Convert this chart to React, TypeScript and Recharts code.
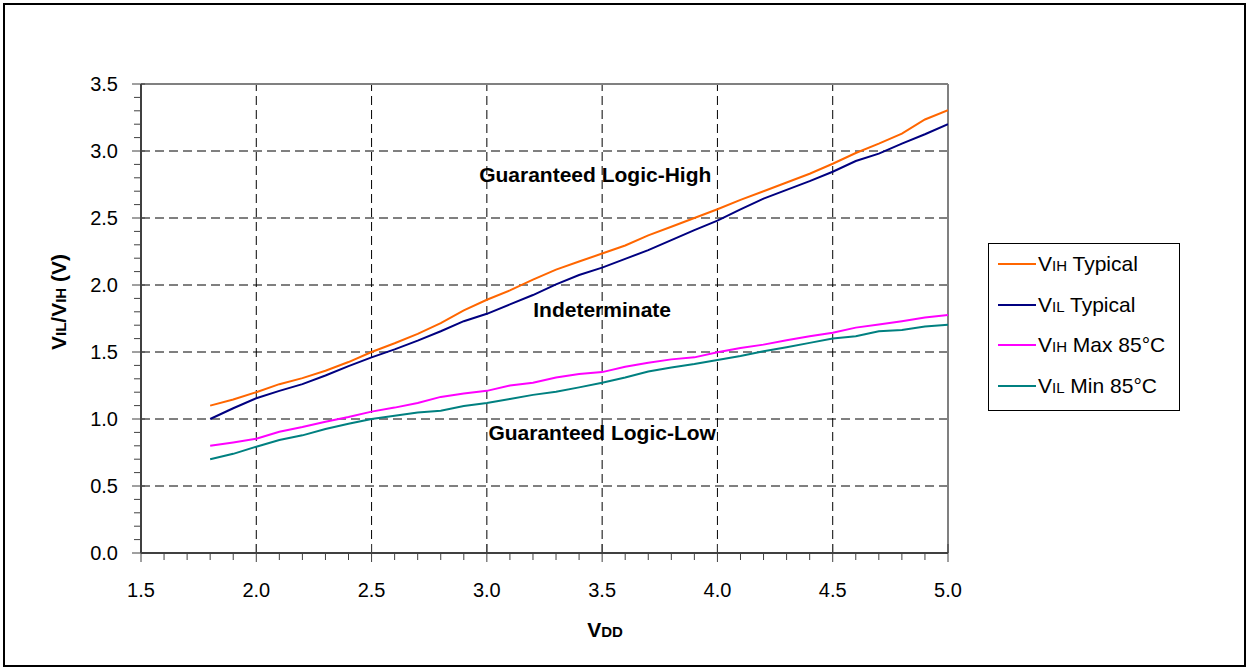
import { LineChart, Line, XAxis, YAxis, ReferenceLine, ReferenceDot, Legend } from "recharts";

// VDD sweep (V)
const VDD = [
  1.8, 1.9, 2.0, 2.1, 2.2, 2.3, 2.4, 2.5, 2.6, 2.7, 2.8, 2.9, 3.0, 3.1, 3.2, 3.3, 3.4,
  3.5, 3.6, 3.7, 3.8, 3.9, 4.0, 4.1, 4.2, 4.3, 4.4, 4.5, 4.6, 4.7, 4.8, 4.9, 5.0,
];

const VIH_TYP = [
  1.1, 1.145, 1.2, 1.26, 1.305, 1.36, 1.425, 1.5, 1.565, 1.635, 1.715, 1.81, 1.89, 1.96,
  2.04, 2.115, 2.175, 2.235, 2.295, 2.37, 2.435, 2.5, 2.565, 2.635, 2.7, 2.765, 2.83,
  2.905, 2.985, 3.055, 3.13, 3.235, 3.305,
];

const VIL_TYP = [
  1.0, 1.08, 1.155, 1.21, 1.26, 1.325, 1.395, 1.46, 1.52, 1.585, 1.655, 1.73, 1.785,
  1.855, 1.925, 2.005, 2.075, 2.13, 2.195, 2.26, 2.335, 2.41, 2.48, 2.565, 2.645, 2.71,
  2.775, 2.845, 2.925, 2.98, 3.055, 3.125, 3.2,
];

const VIH_MAX85 = [
  0.8, 0.825, 0.853, 0.905, 0.94, 0.98, 1.015, 1.055, 1.085, 1.12, 1.165, 1.19, 1.21,
  1.25, 1.27, 1.31, 1.335, 1.35, 1.39, 1.42, 1.445, 1.46, 1.498, 1.53, 1.555, 1.588,
  1.617, 1.644, 1.682, 1.705, 1.73, 1.757, 1.776,
];

const VIL_MIN85 = [
  0.7, 0.74, 0.793, 0.843, 0.878, 0.925, 0.965, 1.0, 1.025, 1.048, 1.062, 1.097, 1.12,
  1.15, 1.18, 1.203, 1.236, 1.27, 1.31, 1.355, 1.385, 1.41, 1.44, 1.47, 1.505, 1.536,
  1.568, 1.6, 1.618, 1.655, 1.665, 1.69, 1.704,
];

const X_TICKS = [
  1.5, 1.6, 1.7, 1.8, 1.9, 2.0, 2.1, 2.2, 2.3, 2.4, 2.5, 2.6, 2.7, 2.8, 2.9, 3.0, 3.1, 3.2,
  3.3, 3.4, 3.5, 3.6, 3.7, 3.8, 3.9, 4.0, 4.1, 4.2, 4.3, 4.4, 4.5, 4.6, 4.7, 4.8, 4.9, 5.0,
];
const Y_TICKS = [
  0.0, 0.1, 0.2, 0.3, 0.4, 0.5, 0.6, 0.7, 0.8, 0.9, 1.0, 1.1, 1.2, 1.3, 1.4, 1.5, 1.6, 1.7,
  1.8, 1.9, 2.0, 2.1, 2.2, 2.3, 2.4, 2.5, 2.6, 2.7, 2.8, 2.9, 3.0, 3.1, 3.2, 3.3, 3.4, 3.5,
];
const X_GRID = [2.0, 2.5, 3.0, 3.5, 4.0, 4.5];
const Y_GRID = [0.5, 1.0, 1.5, 2.0, 2.5, 3.0];

const SERIES = [
  { key: "vihTyp", sub: "IH", rest: " Typical", color: "#ff6600" },
  { key: "vilTyp", sub: "IL", rest: " Typical", color: "#000080" },
  { key: "vihMax", sub: "IH", rest: " Max 85°C", color: "#ff00ff" },
  { key: "vilMin", sub: "IL", rest: " Min 85°C", color: "#008080" },
];

const REGIONS = [
  { x: 3.47, y: 2.828, text: "Guaranteed Logic-High" },
  { x: 3.5, y: 1.82, text: "Indeterminate" },
  { x: 3.5, y: 0.9, text: "Guaranteed Logic-Low" },
];

const data = VDD.map((v, i) => ({
  vdd: v,
  vihTyp: VIH_TYP[i],
  vilTyp: VIL_TYP[i],
  vihMax: VIH_MAX85[i],
  vilMin: VIL_MIN85[i],
}));

const FONT = "Liberation Sans, Arial, sans-serif";
const AXIS = "#404040";

const isMajor = (v: number) => Math.round(v * 10) % 5 === 0;

function XTick({ x, y, payload }: any) {
  const v = payload.value as number;
  const major = isMajor(v);
  const ay = y - 8;
  return (
    <g>
      <line x1={x} x2={x} y1={major ? ay - 9 : ay} y2={major ? ay + 9 : ay + 7} stroke={AXIS} />
      {major && (
        <text x={x} y={ay + 44} textAnchor="middle" fontFamily={FONT} fontSize={20} fill="#000">
          {v.toFixed(1)}
        </text>
      )}
    </g>
  );
}

function YTick({ x, y, payload }: any) {
  const v = payload.value as number;
  const major = isMajor(v);
  const ax = x + 8;
  return (
    <g>
      <line x1={major ? ax - 9 : ax - 7} x2={major ? ax + 4 : ax} y1={y} y2={y} stroke={AXIS} />
      {major && (
        <text x={ax - 23} y={y + 7} textAnchor="end" fontFamily={FONT} fontSize={20} fill="#000">
          {v.toFixed(1)}
        </text>
      )}
    </g>
  );
}

function LegendBox() {
  return (
    <div
      style={{
        width: 192,
        height: 168,
        boxSizing: "border-box",
        border: "1px solid #000",
        background: "#fff",
        fontFamily: FONT,
        position: "relative",
      }}
    >
      {SERIES.map((s, i) => (
        <div
          key={s.key}
          style={{
            position: "absolute",
            left: 9,
            top: 20 + i * 40.5 - 12,
            height: 24,
            display: "flex",
            alignItems: "center",
            whiteSpace: "nowrap",
            color: "#000",
          }}
        >
          <svg width={38} height={24} style={{ display: "block" }}>
            <line x1={0} x2={38} y1={12} y2={12} stroke={s.color} strokeWidth={2} />
          </svg>
          <span style={{ fontSize: 21, marginLeft: 2 }}>
            V<span style={{ fontSize: 15 }}>{s.sub}</span>
            {s.rest}
          </span>
        </div>
      ))}
    </div>
  );
}

export default function App() {
  return (
    <div style={{ position: "absolute", left: 0, top: 0, width: 1249, height: 670, background: "#fff" }}>
      <div
        style={{
          position: "absolute",
          left: 3,
          top: 3,
          width: 1243,
          height: 664,
          boxSizing: "border-box",
          border: "2px solid #000",
        }}
      />
      <div style={{ position: "absolute", left: 0, top: 0 }}>
        <LineChart
          width={1249}
          height={670}
          data={data}
          margin={{ top: 84, right: 301, bottom: 57, left: 81 }}
        >
          <XAxis
            dataKey="vdd"
            type="number"
            domain={[1.5, 5]}
            ticks={X_TICKS}
            interval={0}
            height={60}
            tickSize={8}
            tickMargin={0}
            tickLine={false}
            axisLine={{ stroke: AXIS, strokeWidth: 2 }}
            tick={<XTick />}
            allowDataOverflow
            label={{
              content: () => (
                <text x={605} y={637} textAnchor="middle" fontFamily={FONT} fontWeight="bold" fontSize={21} fill="#000">
                  V<tspan fontSize={15}>DD</tspan>
                </text>
              ),
            }}
          />
          <YAxis
            type="number"
            domain={[0, 3.5]}
            ticks={Y_TICKS}
            interval={0}
            width={60}
            tickSize={8}
            tickMargin={0}
            tickLine={false}
            axisLine={{ stroke: AXIS, strokeWidth: 2 }}
            tick={<YTick />}
            allowDataOverflow
            label={{
              content: () => (
                <text
                  x={66}
                  y={302}
                  transform="rotate(-90 66 302)"
                  textAnchor="middle"
                  fontFamily={FONT}
                  fontWeight="bold"
                  fontSize={21}
                  fill="#000"
                >
                  V<tspan fontSize={15}>IL</tspan>/V<tspan fontSize={15}>IH</tspan> (V)
                </text>
              ),
            }}
          />
          {X_GRID.map((v) => (
            <ReferenceLine key={"x" + v} x={v} stroke="#000" strokeDasharray="9 5" />
          ))}
          {Y_GRID.map((v) => (
            <ReferenceLine key={"y" + v} y={v} stroke="#000" strokeDasharray="9 5" />
          ))}
          <ReferenceLine y={3.5} stroke="#808080" strokeWidth={2} />
          <ReferenceLine x={5} stroke="#808080" strokeWidth={2} />
          {REGIONS.map((r) => (
            <ReferenceDot
              key={r.text}
              x={r.x}
              y={r.y}
              r={1}
              fill="none"
              stroke="none"
              label={{
                value: r.text,
                position: "center",
                fontFamily: FONT,
                fontWeight: "bold",
                fontSize: 21,
                fill: "#000",
              }}
            />
          ))}
          {SERIES.map((s) => (
            <Line
              key={s.key}
              dataKey={s.key}
              type="linear"
              stroke={s.color}
              strokeWidth={2}
              dot={false}
              isAnimationActive={false}
            />
          ))}
          <Legend
            layout="vertical"
            align="center"
            verticalAlign="middle"
            wrapperStyle={{ position: "absolute", left: 988, top: 243, width: 192, height: 168 }}
            content={() => <LegendBox />}
          />
        </LineChart>
      </div>
    </div>
  );
}
